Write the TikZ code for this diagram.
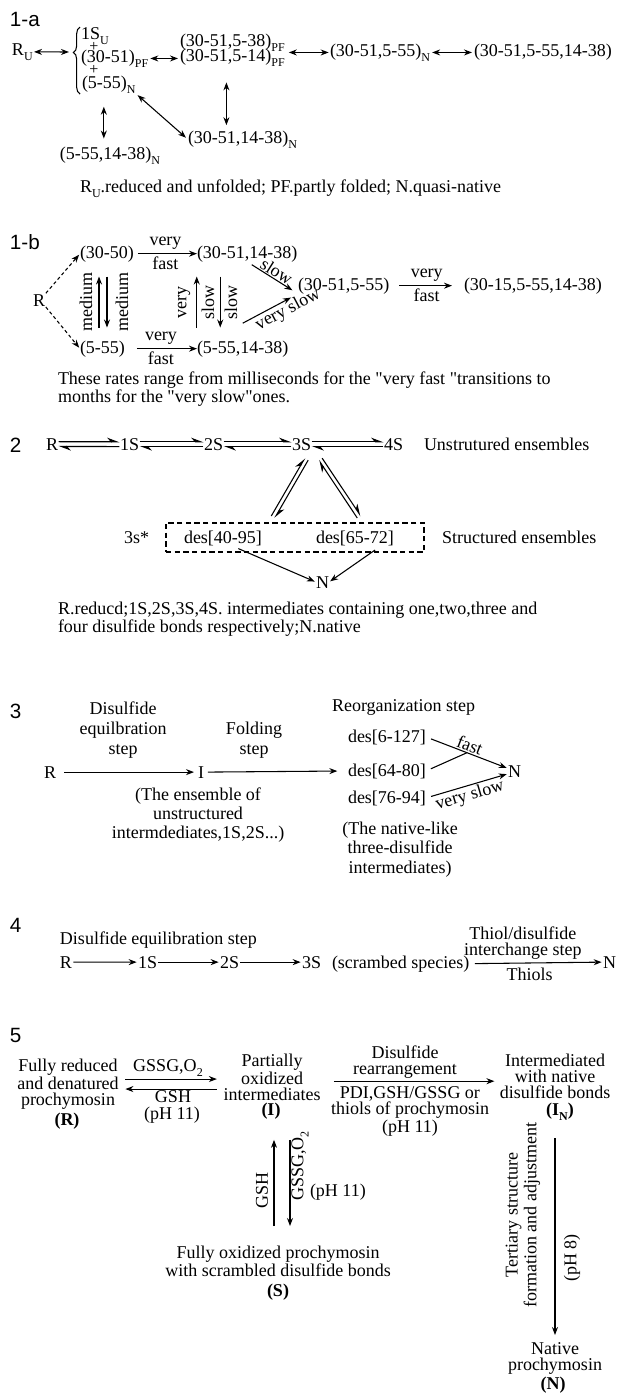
\documentclass[tikz,border=0pt]{standalone}
\usepackage{fontspec}
\setmainfont{Liberation Serif}
\newfontfamily\hsans{Liberation Sans}
\usetikzlibrary{arrows.meta,calc,decorations.pathreplacing}
\newcommand\lsub[1]{\raisebox{-0.3em}{\fontsize{9}{9}\selectfont #1}}
\newcommand\qd{\textquotedbl}
\begin{document}
\begin{tikzpicture}[x=0.75pt,y=-0.75pt,
  every node/.style={inner sep=0pt,outer sep=0pt,font=\fontsize{13.5}{12}\selectfont},
  hd/.style={font=\hsans\fontsize{15.5}{16}\selectfont,anchor=west},
  tx/.style={anchor=base west},
  ct/.style={anchor=north,align=center},
  pl/.style={anchor=base,font=\fontsize{12}{12}\selectfont},
  bd/.style={anchor=base,font=\fontsize{13.5}{12}\selectfont\bfseries},
  ar/.style={-{Stealth[length=6pt,width=4.5pt]},line width=0.8pt},
  dar/.style={{Stealth[length=6pt,width=4.5pt]}-{Stealth[length=6pt,width=4.5pt]},line width=0.8pt},
  dsh/.style={ar,dash pattern=on 2.5pt off 2pt},
  hpr/.style={-{Stealth[harpoon,length=8pt,width=6pt]},line width=0.8pt},
]
\fill[white] (0,0) rectangle (620,1397);
\useasboundingbox (0,0) rectangle (620,1397);

% ---------------- 1-a
\node[hd] (h1a) at (10,19) {1-a};
\node[tx] (RU) at (12,55) {R\lsub{U}};
\draw[line width=0.8pt,decorate,decoration={brace,amplitude=5pt,aspect=0.62}] (80,94) -- (80,27);
\coordinate (brc) at (71,52);
\draw[dar,shorten <=1pt,shorten >=1.5pt] (RU.east) -- (brc);
\node[tx] (s1) at (81,39) {1S\lsub{U}};
\node[pl] (p1) at (94,51) {+};
\node[tx] (s2) at (81,62) {(30-51)\lsub{PF}};
\node[pl] (p2) at (94,74) {+};
\node[tx] (s3) at (82,88) {(5-55)\lsub{N}};
\node[tx] (g1) at (180,46) {(30-51,5-38)\lsub{PF}};
\node[tx] (g2) at (180,61) {(30-51,5-14)\lsub{PF}};
\draw[dar,shorten <=1.5pt,shorten >=1.5pt] (s2.east) -- (s2.east -| g1.west);
\node[tx] (n1) at (330,56) {(30-51,5-55)\lsub{N}};
\draw[dar,shorten <=3pt,shorten >=1pt] (n1.west -| g1.east) -- (n1.west);
\node[tx] (n2) at (474,56) {(30-51,5-55,14-38)};
\draw[dar,shorten <=1.5pt,shorten >=1.5pt] (n1.east) -- (n1.east -| n2.west);
\node[tx] (m1) at (188,143) {(30-51,14-38)\lsub{N}};
\draw[dar,shorten <=12pt,shorten >=4pt] ([xshift=-4.5pt]g2.south) -- ([xshift=-4.5pt]g2.south |- m1.north);
\draw[dar,shorten <=2pt,shorten >=2pt] (s3.south east) -- (m1.west);
\node[tx] (m2) at (60,159) {(5-55,14-38)\lsub{N}};
\draw[dar,shorten <=10pt,shorten >=6pt] ([xshift=-3.75pt]s3.south) -- ([xshift=-3.75pt]s3.south |- m2.north);
\node[tx] (c1a) at (80,192) {R\lsub{U}.reduced and unfolded; PF.partly folded; N.quasi-native};

% ---------------- 1-b
\node[hd] (h1b) at (10,242) {1-b};
\node[tx] (Rb) at (33,306) {R};
\node[tx] (a1) at (80,258) {(30-50)};
\node[tx] (b1) at (197,258) {(30-51,14-38)};
\node[tx] (a2) at (80,353) {(5-55)};
\node[tx] (b2) at (197,353) {(5-55,14-38)};
\node[tx] (cc) at (298,290) {(30-51,5-55)};
\node[tx] (dd) at (464,290) {(30-15,5-55,14-38)};
\draw[dsh,shorten <=1pt,shorten >=1pt] (Rb.north east) -- (a1.west);
\draw[dsh,shorten <=1pt,shorten >=1pt] (Rb.south east) -- (a2.west);
\draw[ar,shorten <=3pt] (a1.east) -- node[above=3pt]{very} node[below=2pt]{fast} (b1.west);
\draw[ar,shorten <=9pt] (a2.east) -- node[above=3pt]{very} node[below=2pt]{fast} (b2.west);
\draw[ar,shorten <=9.75pt,shorten >=11pt] ([xshift=-2.6pt]a2.north) -- ([xshift=-2.6pt]a2.north |- a1.south);
\draw[ar,shorten <=11pt,shorten >=9.75pt] (a1.south) -- (a1.south |- a2.north);
\node[rotate=90] (md1) at (86,302) {medium};
\node[rotate=90] (md2) at (122,302) {medium};
\draw[ar,shorten <=9.75pt,shorten >=11pt] ([xshift=-34.5pt]b2.north) -- ([xshift=-34.5pt]b2.north |- b1.south);
\draw[ar,shorten <=11pt,shorten >=9.75pt] ([xshift=-20.25pt]b1.south) -- ([xshift=-20.25pt]b1.south |- b2.north);
\node[rotate=90] (vs1) at (184,302) {very};
\node[rotate=90] (vs2) at (208,302) {slow};
\node[rotate=90] (vs3) at (231,302) {slow};
\draw[ar,shorten <=4pt,shorten >=5pt] (b1.south) -- node[pos=0.5,sloped,above=1pt]{slow} (cc.south west);
\draw[ar,shorten >=6pt] ([yshift=13pt]b2.north) -- node[pos=0.74,sloped,below=1pt]{very slow} (cc.south west);
\draw[ar,shorten <=7.5pt,shorten >=9pt] (cc.east) -- node[above=3pt]{very} node[below=2pt]{fast} (dd.west);
\node[anchor=north west,align=left] (p1b) at (58,372) {These rates range from milliseconds for the \qd very fast \qd transitions to\\months for the \qd very slow\qd ones.};

% ---------------- 2
\node[hd] (h2) at (10,445) {2};
\node[tx] (R2) at (46,450) {R};
\node[tx] (S1) at (120,450) {1S};
\node[tx] (S2) at (204,450) {2S};
\node[tx] (S3) at (292,450) {3S};
\node[tx] (S4) at (384,450) {4S};
\node[tx] (U2) at (424,450) {Unstrutured ensembles};
\foreach \a/\b in {R2/S1,S1/S2,S2/S3,S3/S4}{
  \draw[hpr,shorten <=0.5pt,shorten >=0.5pt] ([yshift=1.8pt]\a.east) -- ([yshift=1.8pt]\b.west);
  \draw[hpr,shorten <=0.5pt,shorten >=0.5pt] ([yshift=-1.8pt]\b.west) -- ([yshift=-1.8pt]\a.east);
}
\node[draw,dash pattern=on 4pt off 2.5pt,line width=1pt,minimum width=193.5pt,minimum height=21.75pt] (box) at (295,537.5) {};
\draw[hpr] ([shift={(-17.8pt,5.25pt)}]box.north) -- ([shift={(2.5pt,-6pt)}]S3.south);
\draw[hpr] ([shift={(5pt,-7.5pt)}]S3.south) -- ([shift={(-15.2pt,3.75pt)}]box.north);
\draw[hpr] ([shift={(46.7pt,3.75pt)}]box.north) -- ([shift={(13pt,-7.5pt)}]S3.south);
\draw[hpr] ([shift={(15.5pt,-6pt)}]S3.south) -- ([shift={(49.3pt,5.25pt)}]box.north);
\node[tx] (st) at (124,543) {3s*};
\node[tx] (D1) at (184,543) {des[40-95]};
\node[tx] (D2) at (316,543) {des[65-72]};
\node[tx] (SE) at (442,543) {Structured ensembles};
\node[tx] (N2) at (316,588) {N};
\draw[ar,shorten <=6pt,shorten >=1pt] ([xshift=6pt]D1.south) -- (N2.west);
\draw[ar,shorten <=6pt,shorten >=1pt] ([xshift=20pt]D2.south) -- (N2.east);
\node[anchor=north west,align=left] (cap2) at (58,602) {R.reducd;1S,2S,3S,4S. intermediates containing one,two,three and\\four disulfide bonds respectively;N.native};

% ---------------- 3
\node[hd] (h3) at (10,711) {3};
\node[ct,font=\fontsize{13.5}{15}\selectfont] (L1) at (123,702) {Disulfide\\equilbration\\step};
\node[tx] (R3) at (44,778) {R};
\node[tx] (I3) at (198,778) {I};
\draw[ar,shorten <=6pt,shorten >=3pt] (R3.east) -- (I3.west);
\node[ct,font=\fontsize{13.5}{15}\selectfont] (L2) at (254,722) {Folding\\step};
\node[tx] (RS) at (332,711) {Reorganization step};
\node[tx] (E1) at (348,742) {des[6-127]};
\node[tx] (E2) at (348,776) {des[64-80]};
\node[tx] (E3) at (348,803) {des[76-94]};
\draw[ar,shorten <=3pt,shorten >=8pt] (I3.east) -- (E2.west);
\node[tx] (N3) at (508,777) {N};
\draw[ar,shorten <=4pt,shorten >=1pt] (E1.east) -- node[sloped,above=1.5pt]{fast} ([yshift=2pt]N3.west);
\draw[ar,shorten <=4pt,shorten >=1pt] (E3.east) -- node[sloped,below=1.5pt]{very slow} ([yshift=-2pt]N3.west);
\draw[line width=0.8pt,shorten <=4pt] (E2.east) -- ($(E1.east)!0.5!([yshift=2pt]N3.west)$);
\node[ct,font=\fontsize{13.5}{14}\selectfont] (T1) at (198,788) {(The ensemble of\\unstructured\\intermdediates,1S,2S...)};
\node[ct,font=\fontsize{13.5}{14.5}\selectfont] (T2) at (400,822) {(The native-like\\three-disulfide\\intermediates)};

% ---------------- 4
\node[hd] (h4) at (10,925) {4};
\node[tx] (DE) at (60,944) {Disulfide equilibration step};
\node[tx] (R4) at (60,968) {R};
\node[tx] (A1) at (138,968) {1S};
\node[tx] (A2) at (220,968) {2S};
\node[tx] (A3) at (302,968) {3S};
\node[tx] (SC) at (332,968) {(scrambed species)};
\node[tx] (N4) at (603,968) {N};
\draw[ar,shorten <=1pt,shorten >=1pt] (R4.east) -- (A1.west);
\draw[ar,shorten <=1pt,shorten >=1pt] (A1.east) -- (A2.west);
\draw[ar,shorten <=1pt,shorten >=1pt] (A2.east) -- (A3.west);
\draw[ar,shorten <=4pt,shorten >=1pt] (SC.east) -- node[pos=0.4,above=3pt,align=center]{Thiol/disulfide\\interchange step} node[pos=0.45,below=4pt]{Thiols} (N4.west);

% ---------------- 5
\node[hd] (h5) at (10,1035) {5};
\node[ct] (R5) at (68,1059) {Fully reduced\\and denatured\\prochymosin};
\node[bd] (R5b) at (67,1125) {(R)};
\node[anchor=base] (G1) at (168,1071) {GSSG,O\lsub{2}};
\node[ct] (I5) at (272,1054) {Partially\\oxidized\\intermediates};
\node[bd] (I5b) at (271,1115) {(I)};
\draw[ar,shorten <=5pt,shorten >=5pt] ([yshift=3.75pt]R5.east) -- ([yshift=3.75pt]R5.east -| I5.west);
\draw[ar,shorten <=5pt,shorten >=5pt] ([yshift=-3.75pt]R5.east -| I5.west) -- ([yshift=-3.75pt]R5.east);
\node[anchor=base] (G2) at (173,1102) {GSH};
\node[anchor=base] (G3) at (172,1119) {(pH 11)};
\node[ct] (DR) at (405,1046) {Disulfide\\rearrangement};
\node[ct] (IN) at (555,1054) {Intermediated\\with native\\disulfide bonds};
\node[bd] (INb) at (560,1115) {(I\lsub{N})};
\draw[ar,shorten <=10pt,shorten >=4pt] ([yshift=-3pt]I5.east) -- ([yshift=-3pt]I5.east -| IN.west);
\node[ct] (PD) at (410,1087) {PDI,GSH/GSSG or\\thiols of prochymosin\\(pH 11)};
\node[ct] (S5) at (278,1246) {Fully oxidized prochymosin\\with scrambled disulfide bonds};
\node[bd] (S5b) at (278,1296) {(S)};
\draw[ar,shorten <=15pt,shorten >=15.75pt] ([xshift=-3pt]S5.north) -- ([xshift=-3pt]S5.north |- I5b.south);
\draw[ar,shorten <=15.75pt,shorten >=15pt] ([xshift=9pt]S5.north |- I5b.south) -- ([xshift=9pt]S5.north);
\node[rotate=90] (gsh) at (262,1190) {GSH};
\node[rotate=90] (gsg) at (300,1166) {GSSG,O\lsub{2}};
\node[tx] (ph5) at (310,1196) {(pH 11)};
\node[ct] (NN) at (555,1343) {Native\\prochymosin};
\node[bd] (NNb) at (553,1389) {(N)};
\draw[ar,shorten <=13.5pt,shorten >=6pt] (INb.south -| NN.north) -- (NN.north);
\node[rotate=90,align=center,font=\fontsize{13.5}{14}\selectfont] (TS) at (523,1215) {Tertiary structure\\formation and adjustment};
\node[rotate=90] (p8) at (572,1258) {(pH 8)};
\end{tikzpicture}
\end{document}
